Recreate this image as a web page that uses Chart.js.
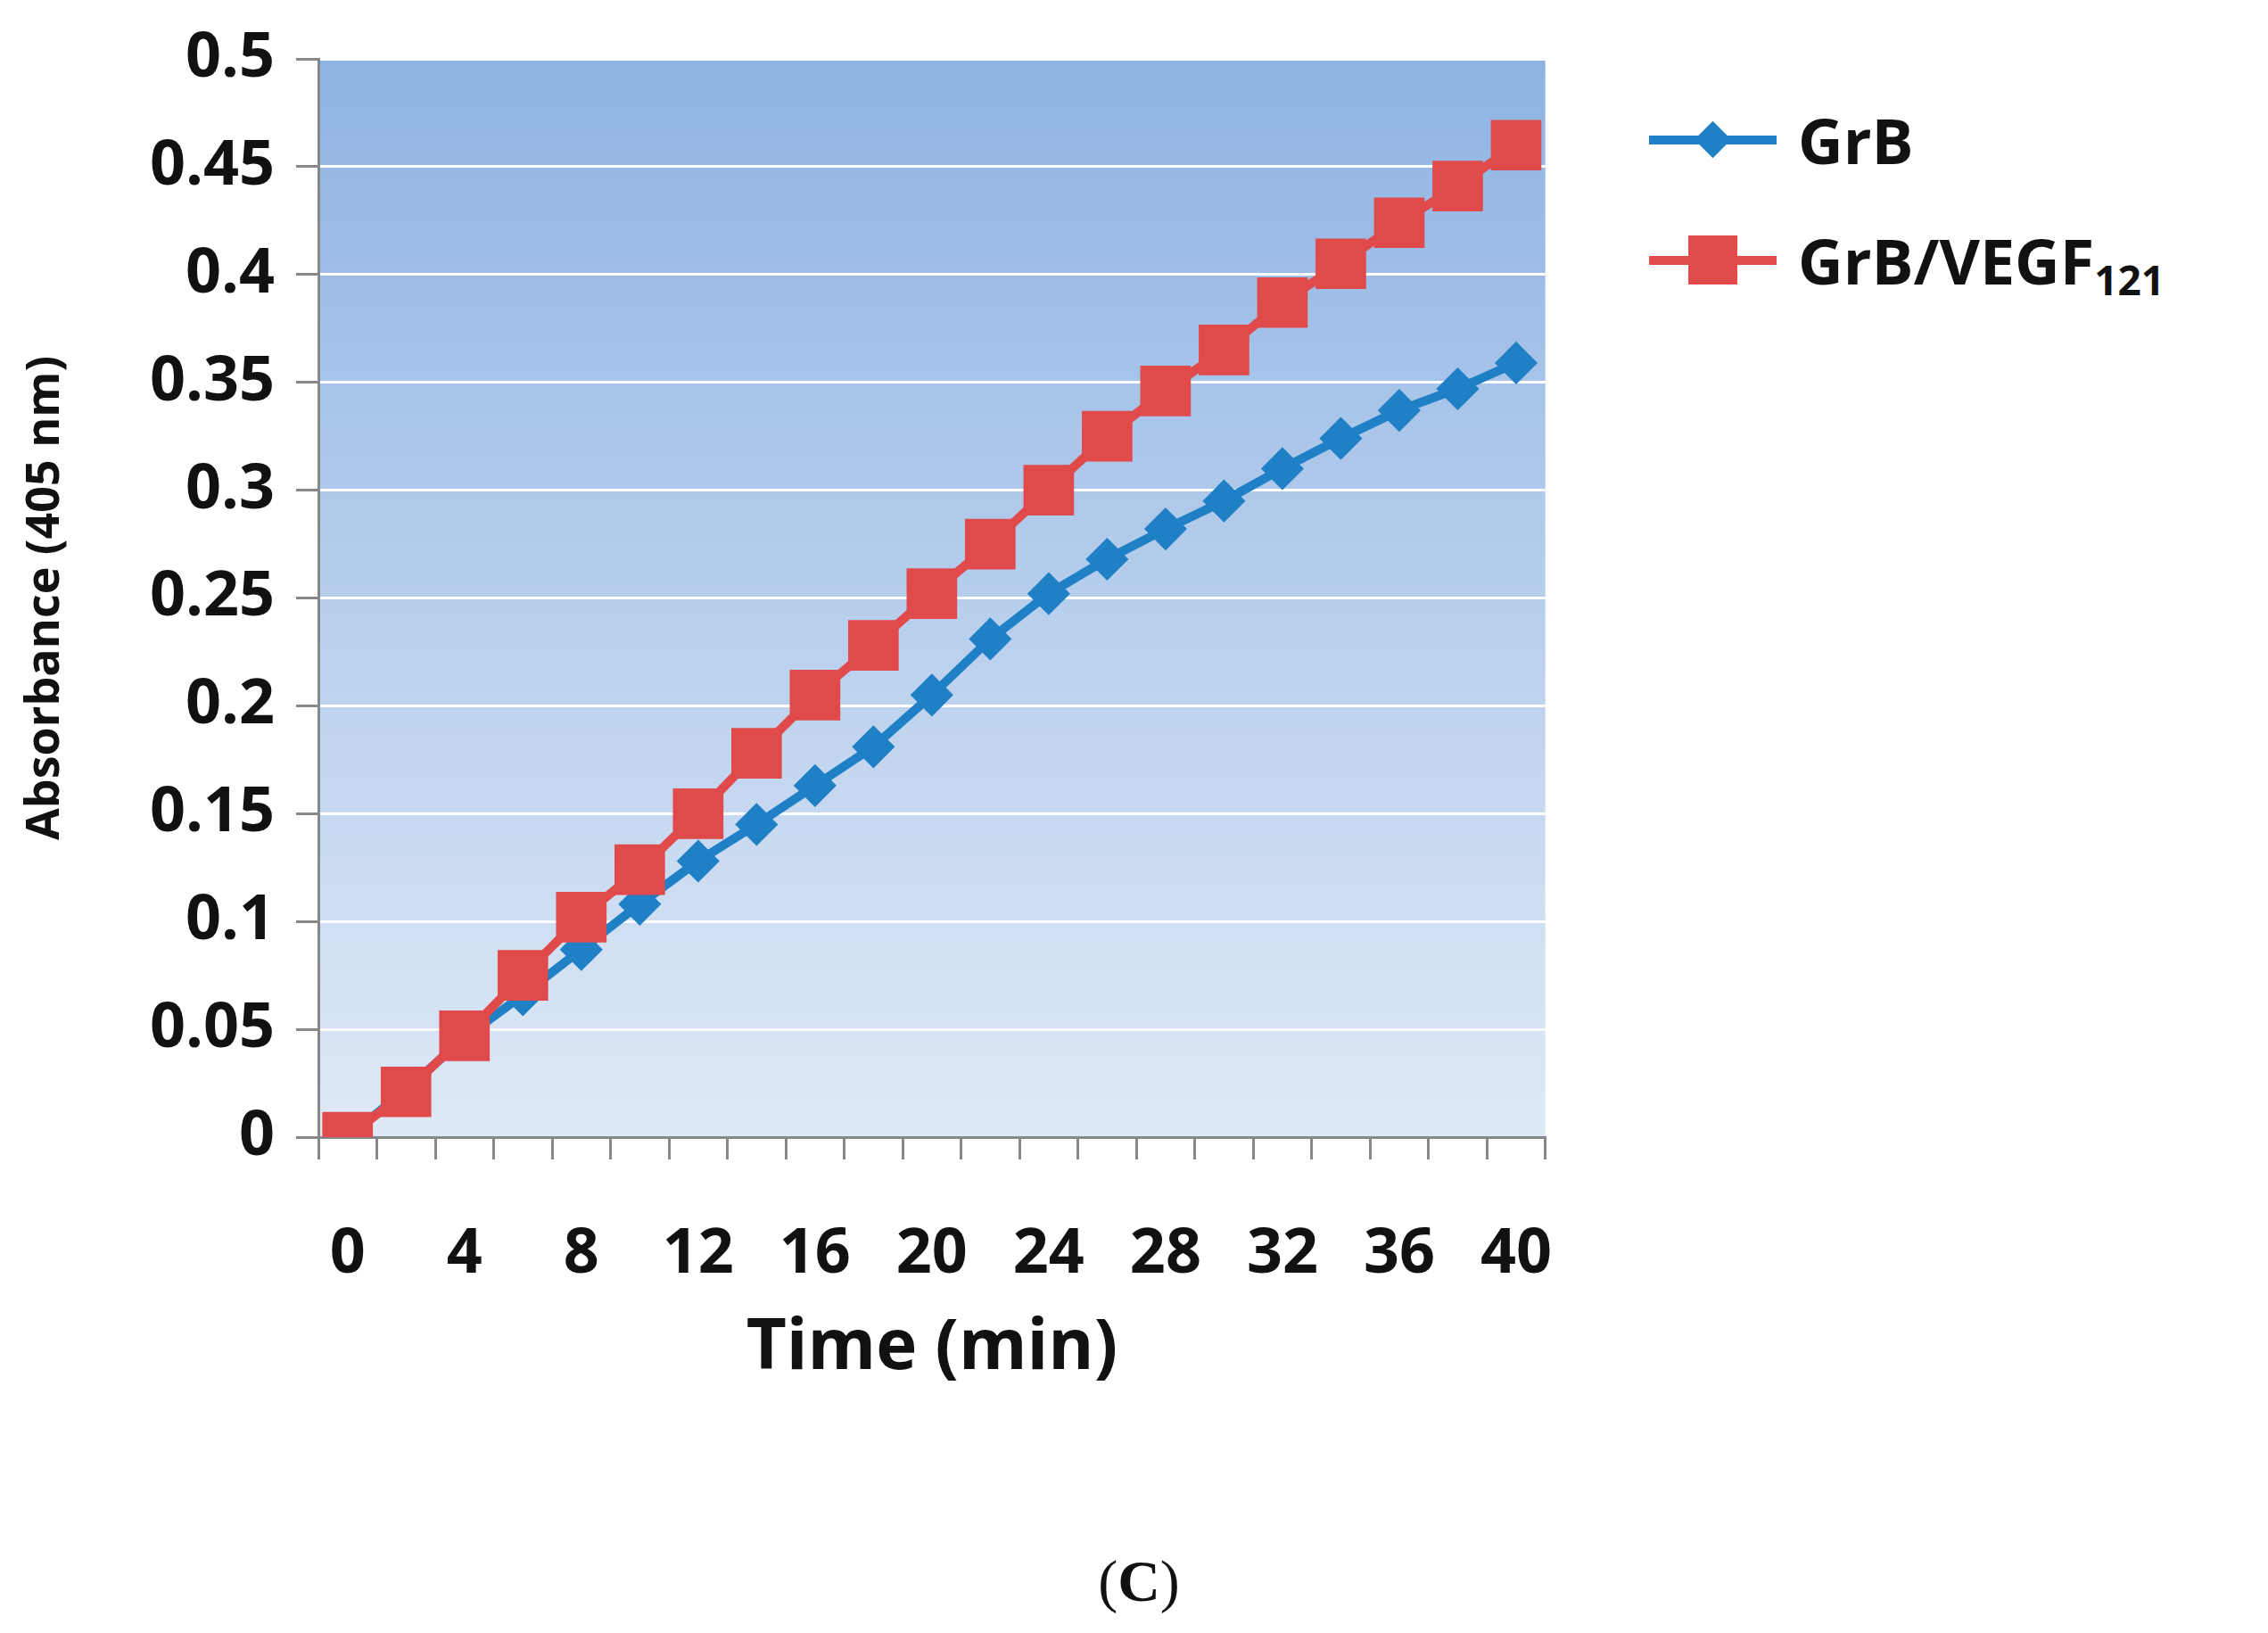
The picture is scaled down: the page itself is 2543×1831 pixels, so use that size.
<!DOCTYPE html>
<html><head><meta charset="utf-8">
<script src="https://cdn.jsdelivr.net/npm/chart.js@4/dist/chart.umd.min.js"></script>
<style>
  body { margin:0; background:#fff; width:2543px; height:1831px; position:relative; overflow:hidden;
         font-family:"Open Sans", sans-serif; }
  #wrap { position:absolute; left:0; top:0; width:1806px; height:1600px; }
  .leg { position:absolute; left:1849px; font-weight:bold; font-size:70px; color:#111; height:90px; }
  .leg .ln { position:absolute; left:0; width:143px; height:10px; top:40px; }
  .leg .mk { position:absolute; }
  .leg .tx { position:absolute; left:167px; top:0; white-space:nowrap; line-height:90px; }
  .leg sub { font-size:46px; vertical-align:-12px; }
  #cap { position:absolute; left:1177px; width:200px; text-align:center; top:1735px;
         font-family:"Liberation Serif", serif; font-size:66px; color:#111; }
</style></head>
<body>
<div id="wrap"><canvas id="c"></canvas></div>
<div class="leg" style="top:112px">
  <div class="ln" style="background:#1f80c6"></div>
  <div class="mk" style="left:52px;top:25px;width:39px;height:39px;background:#1f80c6;transform:rotate(45deg) scale(0.75)"></div>
  <div class="tx">GrB</div>
</div>
<div class="leg" style="top:247px">
  <div class="ln" style="background:#e04a4a"></div>
  <div class="mk" style="left:44px;top:17px;width:55px;height:55px;background:#e04a4a"></div>
  <div class="tx">GrB/VEGF<sub>121</sub></div>
</div>
<div id="cap">(<b>C</b>)</div>
<script>
'use strict';

const times = [0,2,4,6,8,10,12,14,16,18,20,22,24,26,28,30,32,34,36,38,40];
const grb = [0,0.022,0.046,0.066,0.087,0.108,0.128,0.145,0.163,0.181,0.205,0.231,0.252,0.268,0.282,0.295,0.310,0.324,0.337,0.347,0.359];
const grbVegf = [0,0.021,0.047,0.075,0.102,0.124,0.150,0.178,0.205,0.228,0.252,0.275,0.300,0.325,0.346,0.365,0.387,0.405,0.424,0.441,0.460];
const yTicks = [0,0.05,0.1,0.15,0.2,0.25,0.3,0.35,0.4,0.45,0.5];

const bgPlugin = {
  id: 'bg',
  beforeDraw(chart) {
    const { ctx, chartArea: a } = chart;
    const g = ctx.createLinearGradient(0, a.top, 0, a.bottom);
    g.addColorStop(0, '#8eb3e3');
    g.addColorStop(1, '#dfe9f6');
    ctx.save();
    ctx.fillStyle = g;
    ctx.fillRect(a.left, a.top, a.right - a.left, a.bottom - a.top);
    ctx.restore();
  },
};

const font = { family: '"Open Sans", sans-serif', weight: 'bold' };

new Chart(document.getElementById('c'), {
  type: 'line',
  data: {
    labels: times.map(String),
    datasets: [
      { label: 'GrB', data: grb, borderColor: '#1f80c6', backgroundColor: '#1f80c6', order: 2,
        borderWidth: 10, pointStyle: 'rectRot', pointRadius: 17, pointHoverRadius: 17, tension: 0 },
      { label: 'GrB/VEGF121', data: grbVegf, borderColor: '#e04a4a', backgroundColor: '#e04a4a', order: 1,
        borderWidth: 10, pointStyle: 'rect', pointRadius: 33, pointHoverRadius: 33, tension: 0 },
    ],
  },
  plugins: [bgPlugin],
  options: {
    responsive: true, maintainAspectRatio: false, animation: false,
    layout: { padding: { left: 20, top: 43, right: 33, bottom: 40 } },
    plugins: { legend: { display: false }, tooltip: { enabled: false } },
    scales: {
      x: {
        type: 'category', offset: true,
        grid: { offset: true, drawOnChartArea: false, tickLength: 25, color: '#888', lineWidth: 3 },
        border: { color: '#888', width: 3 },
        ticks: { autoSkip: false, maxRotation: 0, color: '#111', padding: 65,
          font: { ...font, size: 70 },
          callback: (v, i) => (i % 2 === 0 ? times[i] : '') },
        title: { display: true, text: 'Time (min)', color: '#111', padding: 0,
          font: { ...font, size: 78 } },
        afterFit: s => { s.height = 285; },
      },
      y: {
        min: 0, max: 0.5,
        afterBuildTicks: s => { s.ticks = yTicks.map(v => ({ value: v })); },
        grid: { color: '#fff', lineWidth: 3, tickColor: '#888', tickLength: 25 },
        border: { color: '#888', width: 3 },
        ticks: { color: '#111', padding: 24, font: { ...font, size: 70 },
          callback: v => String(v) },
        title: { display: true, text: 'Absorbance (405 nm)', color: '#111', padding: 0,
          font: { ...font, size: 52 } },
        afterFit: s => { s.width = 337; },
      },
    },
  },
});
</script>
</body></html>
